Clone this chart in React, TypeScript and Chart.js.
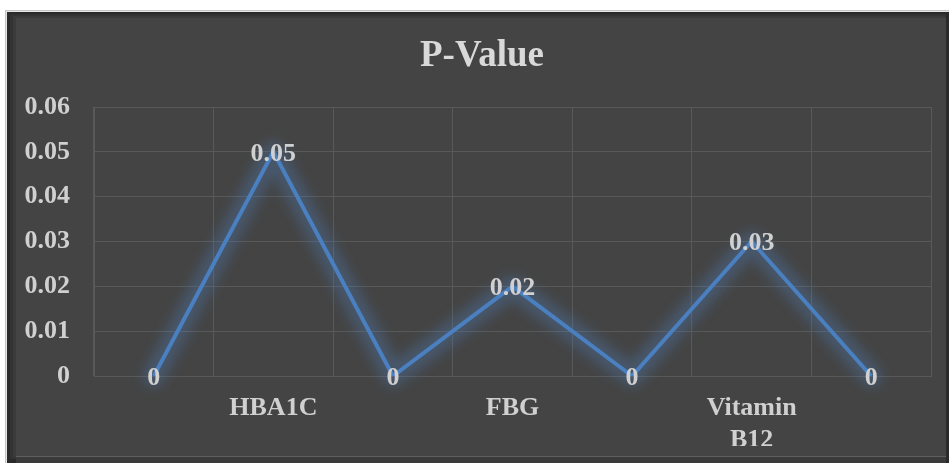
import React, { useEffect, useRef } from "react";
import { Chart, registerables } from "chart.js";

Chart.register(...registerables);

const categories: (string | string[])[] = ["", "HBA1C", "", "FBG", "", ["Vitamin", "B12"], ""];
const pValues: number[] = [0, 0.05, 0, 0.02, 0, 0.03, 0];
const yTicks: number[] = [0, 0.01, 0.02, 0.03, 0.04, 0.05, 0.06];
const titleText = "P-Value";

const W = 949;
const H = 463;
const FONT = "'Liberation Serif', 'Times New Roman', serif";
const TEXT = "#d0d0d0";

const framePlugin = {
  id: "frame",
  beforeDraw(chart: any) {
    const ctx = chart.ctx;
    ctx.save();
    ctx.fillStyle = "#ffffff";
    ctx.fillRect(0, 0, W, H);
    ctx.fillStyle = "#c4c4c4";
    ctx.fillRect(5, 10, W - 5, H - 10);
    ctx.fillStyle = "#e6e6e6";
    ctx.fillRect(6, 11, W - 6, H - 11);
    ctx.fillStyle = "#2a2a2a";
    ctx.fillRect(7, 12, W - 7, H - 12);
    ctx.fillStyle = "#333333";
    ctx.fillRect(10, 14, W - 13, H - 18);
    ctx.fillStyle = "#3b3b3b";
    ctx.fillRect(13, 16, W - 17, H - 22);
    ctx.fillStyle = "#444444";
    ctx.fillRect(16, 18, W - 19, H - 25);
    ctx.fillStyle = "#5e5e5e";
    ctx.fillRect(16, 456, W - 19, 1);
    ctx.fillStyle = "#3a3a3a";
    ctx.fillRect(16, 457, W - 19, H - 457);
    ctx.restore();
  },
};

// shift the title box so its centre sits where the reference has it
const titleShiftPlugin = {
  id: "titleShift",
  afterLayout(chart: any) {
    if (chart.titleBlock) {
      chart.titleBlock.left = 33;
    }
  },
};

const glowPlugin = {
  id: "glow",
  beforeDatasetDraw(chart: any) {
    const ctx = chart.ctx;
    const pts = chart.getDatasetMeta(0).data;
    ctx.save();
    ctx.beginPath();
    pts.forEach((p: any, i: number) => (i === 0 ? ctx.moveTo(p.x, p.y) : ctx.lineTo(p.x, p.y)));
    ctx.lineJoin = "round";
    ctx.lineCap = "round";
    ctx.filter = "blur(6px)";
    ctx.strokeStyle = "rgba(79,129,189,0.32)";
    ctx.lineWidth = 22;
    ctx.stroke();
    ctx.restore();
  },
};

const labelPlugin = {
  id: "pointLabels",
  afterDatasetsDraw(chart: any) {
    const ctx = chart.ctx;
    const meta = chart.getDatasetMeta(0);
    const data = chart.data.datasets[0].data as number[];
    ctx.save();
    ctx.font = `bold 26px ${FONT}`;
    ctx.fillStyle = TEXT;
    ctx.textAlign = "center";
    ctx.textBaseline = "middle";
    meta.data.forEach((pt: any, i: number) => {
      const v = data[i];
      const txt = v === 0 ? "0" : v.toFixed(2);
      ctx.fillText(txt, pt.x, pt.y + 2);
    });
    ctx.restore();
  },
};

export default function App() {
  const ref = useRef<HTMLCanvasElement | null>(null);

  useEffect(() => {
    if (!ref.current) return;
    const chart = new Chart(ref.current, {
      type: "line",
      data: {
        labels: categories,
        datasets: [
          {
            data: pValues,
            borderColor: "#4a7fc0",
            borderWidth: 4,
            pointRadius: 0,
            pointHoverRadius: 0,
            tension: 0,
            fill: false,
          },
        ],
      },
      options: {
        animation: false,
        responsive: false,
        events: [],
        layout: { padding: { left: 0, right: 18, top: 10, bottom: 17 } },
        plugins: {
          legend: { display: false },
          tooltip: { enabled: false },
          title: {
            display: true,
            text: titleText,
            color: "#d9d9d9",
            font: { family: FONT, size: 37, weight: "bold", lineHeight: 1.2 },
            padding: { top: 24, bottom: 28.6 },
          },
        },
        scales: {
          x: {
            offset: true,
            grid: { color: "#595959", lineWidth: 1, offset: true, drawTicks: false },
            border: { color: "#595959" },
            ticks: {
              color: TEXT,
              font: { family: FONT, size: 26, weight: "bold", lineHeight: 1.2 },
              padding: 17,
              maxRotation: 0,
              autoSkip: false,
            },
            afterFit(scale: any) {
              scale.height = 70;
            },
          },
          y: {
            min: 0,
            max: 0.06,
            afterBuildTicks(scale: any) {
              scale.ticks = yTicks.map((v) => ({ value: v }));
            },
            grid: { color: "#595959", lineWidth: 1, drawTicks: false },
            border: { color: "#595959" },
            ticks: {
              color: TEXT,
              font: { family: FONT, size: 26, weight: "bold" },
              padding: 24,
              callback: (v: any) => (Number(v) === 0 ? "0" : Number(v).toFixed(2)),
            },
            afterFit(scale: any) {
              scale.width = 94;
            },
          },
        },
      },
      plugins: [framePlugin, titleShiftPlugin, glowPlugin, labelPlugin],
    });
    return () => chart.destroy();
  }, []);

  return (
    <div style={{ position: "absolute", left: 0, top: 0, width: W, height: H }}>
      <canvas ref={ref} width={W} height={H} style={{ display: "block" }} />
    </div>
  );
}
